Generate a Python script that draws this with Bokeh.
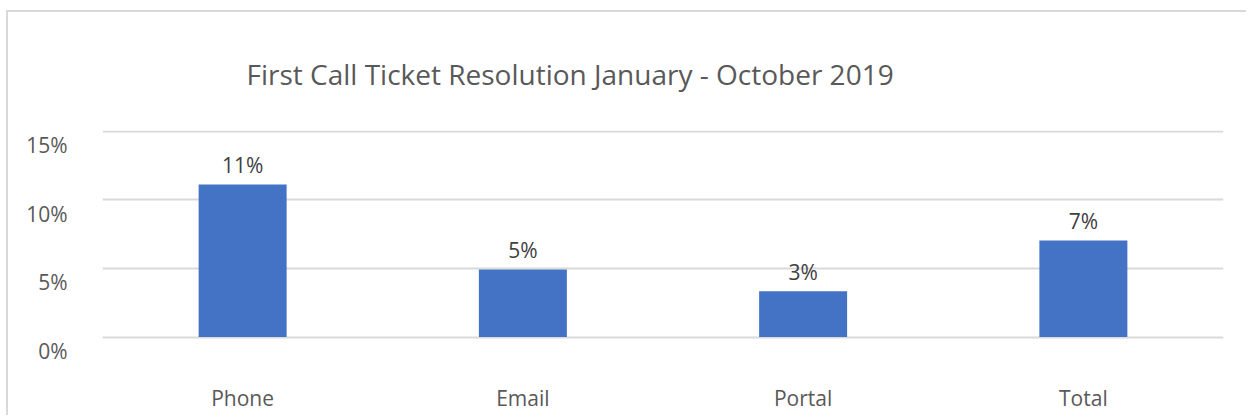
from bokeh.plotting import figure
from bokeh.models import ColumnDataSource, LabelSet, Title, Range1d, FixedTicker
from bokeh.core.properties import value
from bokeh.embed import file_html
from bokeh.resources import INLINE

categories = ["Phone", "Email", "Portal", "Total"]
values = [0.1112, 0.0493, 0.0333, 0.0704]
labels = [f"{round(v * 100)}%" for v in values]
y_ticks = [0, 0.05, 0.10, 0.15]
y_tick_labels = ["0%", "5%", "10%", "15%"]
title_text = "First Call Ticket Resolution January - October 2019"

FONT = "Open Sans"
TXT = "#595959"
LABEL_DROP = 0.0100  # tick labels sit a little below their gridline (style offset)

src = ColumnDataSource(dict(cat=categories, val=values, lab=labels))

p = figure(x_range=categories, y_range=Range1d(-0.012, 0.1505), width=1240, height=405,
           output_backend="svg", toolbar_location=None,
           min_border_left=94, min_border_right=25, min_border_top=118, min_border_bottom=64)
p.outline_line_color = None
p.background_fill_color = "white"
p.border_fill_color = "white"
p.styles = {"border-left": "2px solid #d9d9d9", "border-top": "2px solid #d9d9d9",
            "margin-left": "6px", "margin-top": "10px"}

p.vbar(x="cat", top="val", bottom=0, width=0.314, source=src, color="#4472C4", line_color=None)

p.add_layout(LabelSet(x="cat", y="val", text="lab", source=src, text_align="center",
                      text_baseline="bottom", y_offset=5, text_font=value(FONT),
                      text_font_size="21px", text_color="#404040"))

p.title = Title(text=title_text, align="left", offset=144, standoff=76, text_font=FONT,
                text_font_size="28px", text_color=TXT, text_font_style="normal")

label_pos = [t - LABEL_DROP for t in y_ticks]
p.yaxis.ticker = FixedTicker(ticks=label_pos)
p.yaxis.major_label_overrides = {lp: lab for lp, lab in zip(label_pos, y_tick_labels)}
for ax in (p.xaxis[0], p.yaxis[0]):
    ax.axis_line_color = None
    ax.major_tick_line_color = None
    ax.minor_tick_line_color = None
    ax.major_label_text_font = FONT
    ax.major_label_text_font_size = "21px"
    ax.major_label_text_color = TXT
p.yaxis.major_label_standoff = 29
p.xaxis.major_label_standoff = 24

p.xgrid.grid_line_color = None
p.ygrid.ticker = FixedTicker(ticks=y_ticks)
p.ygrid.grid_line_color = "#d9d9d9"
p.ygrid.grid_line_width = 2

open("out.html", "w").write(file_html(p, INLINE))
